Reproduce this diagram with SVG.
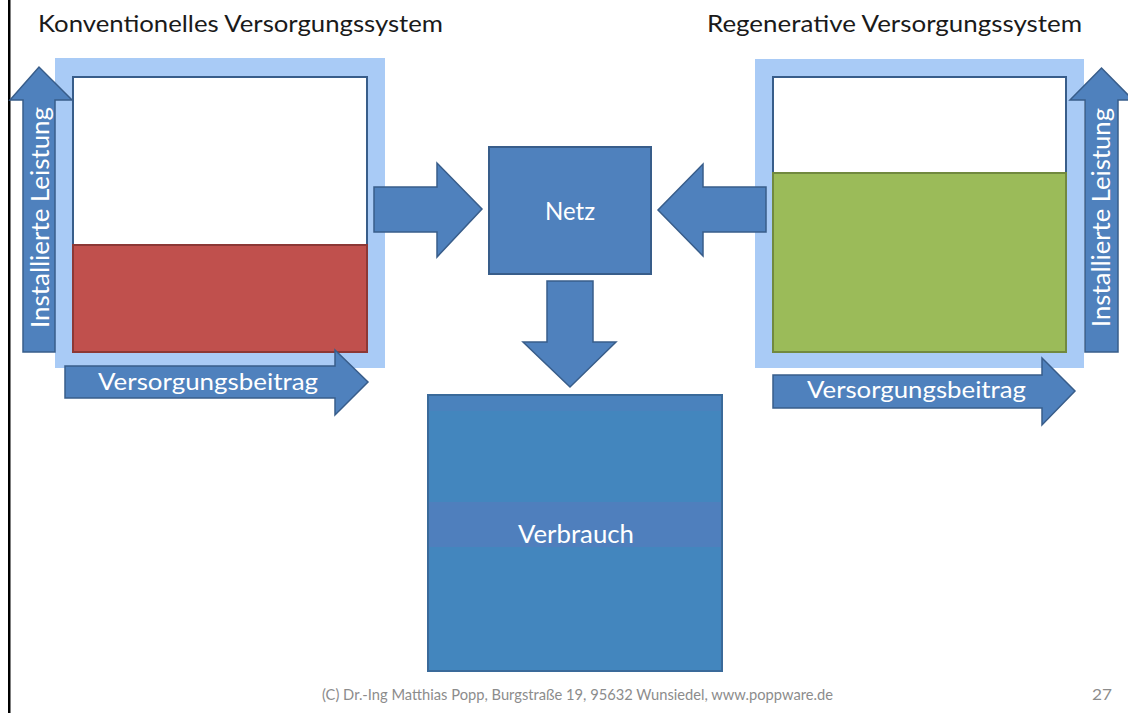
<svg xmlns="http://www.w3.org/2000/svg" width="1128" height="713" viewBox="0 0 1128 713">
<style>
.arrow{fill:#4f81bd;stroke:#385d8a;stroke-width:1.5}
.panel{fill:#a9cbf6}
.frame{fill:#ffffff;stroke:#385d8a;stroke-width:2}
.lbl{font-family:Lato,"Open Sans",sans-serif;fill:#ffffff}
.title{font-family:Lato,"Open Sans",sans-serif;fill:#1a1a1a;font-size:24px}
.foot{font-family:Lato,"Open Sans",sans-serif;fill:#8c8c8c;font-size:16px}
</style>
<rect x="0" y="0" width="1128" height="713" fill="#ffffff"/>
<rect x="8" y="0" width="2.5" height="713" fill="#000000"/>
<text class="title" x="38" y="32" textLength="405" lengthAdjust="spacingAndGlyphs">Konventionelles Versorgungssystem</text>
<text class="title" x="707" y="32" textLength="375" lengthAdjust="spacingAndGlyphs">Regenerative Versorgungssystem</text>
<g id="conv">
<rect class="panel" x="55" y="58" width="330" height="310"/>
<rect class="frame" x="73" y="77" width="294" height="275"/>
<rect x="73" y="245" width="294" height="107" fill="#c0504d" stroke="#8c3836" stroke-width="2"/>
</g>
<g id="conv-leistung">
<path class="arrow" d="M23,352 L23,100 L10,100 L39,67 L72,100 L55,100 L55,352 Z"/>
<text class="lbl" font-size="25" transform="translate(49,217.5) rotate(-90)" text-anchor="middle" textLength="221" lengthAdjust="spacingAndGlyphs">Installierte Leistung</text>
</g>
<g id="conv-beitrag">
<path class="arrow" d="M65,366 L335,366 L335,350 L368,382 L335,415 L335,398 L65,398 Z"/>
<text class="lbl" font-size="24" x="208" y="390" text-anchor="middle" textLength="220" lengthAdjust="spacingAndGlyphs">Versorgungsbeitrag</text>
</g>
<g id="reg">
<rect class="panel" x="755" y="59" width="329" height="309"/>
<rect class="frame" x="773" y="77" width="293" height="275"/>
<rect x="773" y="173" width="293" height="179" fill="#9bbb59" stroke="#71893f" stroke-width="2"/>
</g>
<g id="reg-leistung">
<path class="arrow" d="M1085,352 L1085,100 L1070,100 L1101.5,68 L1133,100 L1118,100 L1118,352 Z"/>
<text class="lbl" font-size="25" transform="translate(1110,217.5) rotate(-90)" text-anchor="middle" textLength="219" lengthAdjust="spacingAndGlyphs">Installierte Leistung</text>
</g>
<g id="reg-beitrag">
<path class="arrow" d="M773,375 L1042,375 L1042,358 L1075,391 L1042,425 L1042,408 L773,408 Z"/>
<text class="lbl" font-size="24" x="916.5" y="398" text-anchor="middle" textLength="219" lengthAdjust="spacingAndGlyphs">Versorgungsbeitrag</text>
</g>
<g id="netz">
<rect x="489" y="147" width="162" height="127" fill="#4f81bd" stroke="#385d8a" stroke-width="2"/>
<text class="lbl" font-size="25" x="570" y="220" text-anchor="middle" textLength="50" lengthAdjust="spacingAndGlyphs">Netz</text>
</g>
<g id="verbrauch">
<rect x="428" y="395" width="294" height="276" fill="#4386be" stroke="#3a6a9a" stroke-width="2"/>
<rect x="429" y="396" width="292" height="15" fill="#4a82bd"/>
<rect x="429" y="502" width="292" height="45" fill="#4f7fbd"/>
<text class="lbl" font-size="25" x="576" y="543" text-anchor="middle" textLength="116" lengthAdjust="spacingAndGlyphs">Verbrauch</text>
</g>
<g id="connectors">
<path class="arrow" d="M374,187 L437,187 L437,163 L482,209 L437,257 L437,232 L374,232 Z"/>
<path class="arrow" d="M766,187 L703,187 L703,164 L658,210 L703,256 L703,232 L766,232 Z"/>
<path class="arrow" d="M547,281 L593,281 L593,342 L616,342 L570,387 L523,342 L547,342 Z"/>
</g>
<text class="foot" x="322" y="700" textLength="511" lengthAdjust="spacingAndGlyphs">(C) Dr.-Ing Matthias Popp, Burgstraße 19, 95632 Wunsiedel, www.poppware.de</text>
<text class="foot" x="1092" y="700" textLength="20" lengthAdjust="spacingAndGlyphs">27</text>
</svg>
